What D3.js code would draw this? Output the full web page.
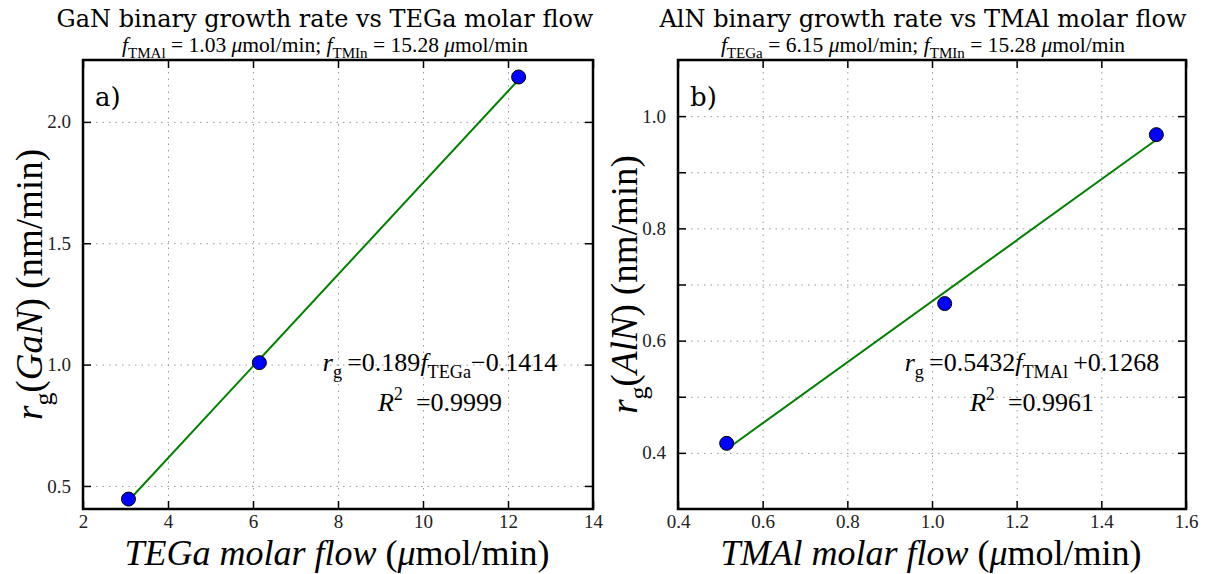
<!DOCTYPE html>
<html>
<head>
<meta charset="utf-8">
<script src="https://cdn.jsdelivr.net/npm/d3@7"></script>
<style>
  body { margin: 0; background: #fff; }
  svg { display: block; }
</style>
</head>
<body>
<svg id="chart"></svg>
<script>
// ---- data ----
var ganFlow = [3.07, 6.15, 12.25];
var ganRate = [0.446, 1.008, 2.185];
var ganXTicks = [2, 4, 6, 8, 10, 12, 14];
var ganYTicks = [0.5, 1.0, 1.5, 2.0];

var alnFlow = [0.515, 1.03, 1.53];
var alnRate = [0.417, 0.666, 0.967];
var alnXTicks = [0.4, 0.6, 0.8, 1.0, 1.2, 1.4, 1.6];
var alnYTicks = [0.4, 0.5, 0.6, 0.7, 0.8, 0.9, 1.0];
var alnYLabels = [0.4, 0.6, 0.8, 1.0];

var ganFit = [0.189, -0.1414];
var alnFit = [0.5432, 0.1268];

var W = 1208, H = 574;
var yTop = 60, yBot = 509;
var EQ = "\u2009=";

var svg = d3.select("#chart").attr("width", W).attr("height", H);

// writes matplotlib-ish mathtext with tspans
function mathText(sel, parts, size) {
  var off = 0;
  parts.forEach(function(p) {
    var target = p.sub ? size * 0.28 : (p.sup ? -size * 0.42 : 0);
    sel.append("tspan").text(p.t)
      .attr("dy", target - off)
      .style("font-style", p.i ? "italic" : "normal")
      .style("font-size", ((p.sub || p.sup) ? size * 0.7 : size) + "px");
    off = target;
  });
  return sel;
}

function panel(opt) {
  var x = d3.scaleLinear().domain(opt.xDomain).range([opt.x0, opt.x1]);
  var y = d3.scaleLinear().domain(opt.yDomain).range([yBot, yTop]);
  var g = svg.append("g");
  var h = yBot - yTop, w = opt.x1 - opt.x0;

  // dotted grid
  var gx = g.append("g").attr("transform", "translate(0," + yBot + ")")
    .call(d3.axisBottom(x).tickValues(opt.xTicks).tickSize(-h).tickFormat(""));
  var gy = g.append("g").attr("transform", "translate(" + opt.x0 + ",0)")
    .call(d3.axisLeft(y).tickValues(opt.yTicks).tickSize(-w).tickFormat(""));
  [gx, gy].forEach(function(a) {
    a.select(".domain").remove();
    a.selectAll("line").attr("stroke", "#9a9a9a").attr("stroke-dasharray", "1.5,5").attr("stroke-width", 1);
  });

  // fit line
  var xs = d3.extent(opt.flow);
  g.append("path")
    .datum(xs)
    .attr("fill", "none").attr("stroke", "#008000").attr("stroke-width", 2)
    .attr("d", d3.line().x(function(d) { return x(d); })
                       .y(function(d) { return y(opt.fit[0] * d + opt.fit[1]); }));

  // points
  g.selectAll("circle.pt").data(opt.flow).enter().append("circle")
    .attr("cx", function(d) { return x(d); })
    .attr("cy", function(d, i) { return y(opt.rate[i]); })
    .attr("r", 7)
    .attr("fill", "#0000ff").attr("stroke", "#000").attr("stroke-width", 1);

  // axes, ticks pointing inward on all four sides
  var axes = [
    g.append("g").attr("transform", "translate(0," + yBot + ")")
      .call(d3.axisBottom(x).tickValues(opt.xTicks).tickSizeInner(-8).tickSizeOuter(0)
        .tickPadding(6).tickFormat(opt.xFmt)),
    g.append("g").attr("transform", "translate(0," + yTop + ")")
      .call(d3.axisTop(x).tickValues(opt.xTicks).tickSizeInner(-8).tickSizeOuter(0).tickFormat("")),
    g.append("g").attr("transform", "translate(" + opt.x0 + ",0)")
      .call(d3.axisLeft(y).tickValues(opt.yTicks).tickSizeInner(-8).tickSizeOuter(0)
        .tickPadding(12).tickFormat(opt.yFmt)),
    g.append("g").attr("transform", "translate(" + opt.x1 + ",0)")
      .call(d3.axisRight(y).tickValues(opt.yTicks).tickSizeInner(-8).tickSizeOuter(0).tickFormat(""))
  ];
  axes.forEach(function(a) {
    a.select(".domain").remove();
    a.selectAll(".tick line").attr("stroke", "#000").attr("stroke-width", 1.5);
    a.selectAll(".tick text").style("font-family", "Liberation Serif").style("font-size", "19px").attr("fill", "#222");
  });

  g.append("rect").attr("x", opt.x0).attr("y", yTop).attr("width", w).attr("height", h)
    .attr("fill", "none").attr("stroke", "#000").attr("stroke-width", 2.5);

  var cx = (opt.x0 + opt.x1) / 2;

  // title + subtitle
  svg.append("text").attr("x", opt.titleX).attr("y", 27).attr("text-anchor", "middle")
    .style("font-family", "DejaVu Serif").style("font-size", "24px").text(opt.title);
  mathText(svg.append("text").attr("x", opt.titleX).attr("y", 52).attr("text-anchor", "middle")
    .style("font-family", "Liberation Serif"), opt.sub, 21.5);

  // panel letter
  svg.append("text").attr("x", opt.x0 + 12).attr("y", 106)
    .style("font-family", "DejaVu Serif").style("font-size", "26px").text(opt.letter);

  // axis labels
  mathText(svg.append("text").attr("x", cx - 1).attr("y", 565).attr("text-anchor", "middle")
    .style("font-family", "Liberation Serif"), opt.xLabel, 36);
  mathText(svg.append("text").attr("transform", "translate(" + (opt.x0 - 41) + "," + ((yTop + yBot) / 2) + ") rotate(-90)")
    .attr("text-anchor", "middle").style("font-family", "Liberation Serif"), opt.yLabel, 37);

  // fit equation
  mathText(svg.append("text").attr("x", opt.eqX).attr("y", 371).attr("text-anchor", "middle")
    .style("font-family", "Liberation Serif"), opt.eq, 26);
  mathText(svg.append("text").attr("x", opt.eqX).attr("y", 411).attr("text-anchor", "middle")
    .style("font-family", "Liberation Serif"), opt.r2, 26);
}

panel({
  x0: 83, x1: 593, xDomain: [2, 14], yDomain: [0.405, 2.255],
  xTicks: ganXTicks, yTicks: ganYTicks,
  xFmt: d3.format("d"), yFmt: d3.format(".1f"),
  flow: ganFlow, rate: ganRate, fit: ganFit,
  titleX: 325,
  title: "GaN binary growth rate vs TEGa molar flow",
  sub: [{t: "f", i: 1}, {t: "TMAl", sub: 1}, {t: " = 1.03 "}, {t: "\u03bc", i: 1}, {t: "mol/min; "},
        {t: "f", i: 1}, {t: "TMIn", sub: 1}, {t: " = 15.28 "}, {t: "\u03bc", i: 1}, {t: "mol/min"}],
  letter: "a)",
  xLabel: [{t: "TEGa molar flow ", i: 1}, {t: "("}, {t: "\u03bc", i: 1}, {t: "mol/min)"}],
  yLabel: [{t: "r", i: 1}, {t: "g", sub: 1}, {t: "("}, {t: "GaN", i: 1}, {t: ") (nm/min)"}],
  eqX: 440,
  eq: [{t: "r", i: 1}, {t: "g", sub: 1}, {t: EQ + "0.189"}, {t: "f", i: 1}, {t: "TEGa", sub: 1}, {t: "\u22120.1414"}],
  r2: [{t: "R", i: 1}, {t: "2", sup: 1}, {t: "\u2002=0.9999"}]
});

panel({
  x0: 678, x1: 1186, xDomain: [0.4, 1.6], yDomain: [0.3, 1.1],
  xTicks: alnXTicks, yTicks: alnYTicks,
  xFmt: d3.format(".1f"),
  yFmt: function(d) { return alnYLabels.some(function(v) { return Math.abs(v - d) < 1e-9; }) ? d3.format(".1f")(d) : ""; },
  flow: alnFlow, rate: alnRate, fit: alnFit,
  titleX: 923,
  title: "AlN binary growth rate vs TMAl molar flow",
  sub: [{t: "f", i: 1}, {t: "TEGa", sub: 1}, {t: " = 6.15 "}, {t: "\u03bc", i: 1}, {t: "mol/min; "},
        {t: "f", i: 1}, {t: "TMIn", sub: 1}, {t: " = 15.28 "}, {t: "\u03bc", i: 1}, {t: "mol/min"}],
  letter: "b)",
  xLabel: [{t: "TMAl molar flow ", i: 1}, {t: "("}, {t: "\u03bc", i: 1}, {t: "mol/min)"}],
  yLabel: [{t: "r", i: 1}, {t: "g", sub: 1}, {t: "("}, {t: "AlN", i: 1}, {t: ") (nm/min)"}],
  eqX: 1032,
  eq: [{t: "r", i: 1}, {t: "g", sub: 1}, {t: EQ + "0.5432"}, {t: "f", i: 1}, {t: "TMAl", sub: 1}, {t: "\u2009+0.1268"}],
  r2: [{t: "R", i: 1}, {t: "2", sup: 1}, {t: "\u2002=0.9961"}]
});
</script>
</body>
</html>
